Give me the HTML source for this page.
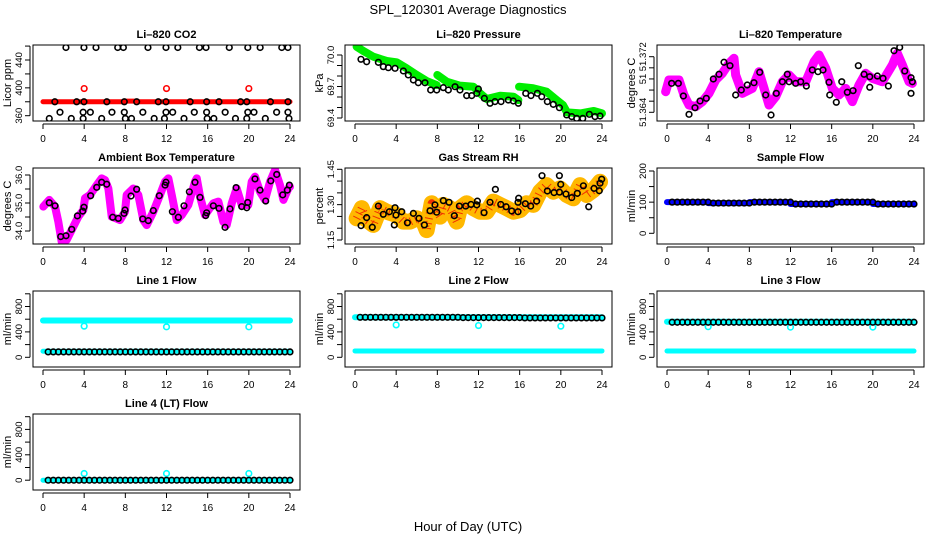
<!DOCTYPE html>
<html><head><meta charset="utf-8"><style>
html,body{margin:0;padding:0;background:#fff;}
svg{display:block;font-family:"Liberation Sans",Arial,sans-serif;}
</style></head><body>
<svg id="fig" width="936" height="540" viewBox="0 0 936 540" xmlns="http://www.w3.org/2000/svg">
<rect x="0" y="0" width="936" height="540" fill="#fff"/>
<text x="468" y="14" text-anchor="middle" font-size="13">SPL_120301  Average Diagnostics</text>
<text x="468" y="531" text-anchor="middle" font-size="13">Hour of Day (UTC)</text>
</svg>
<script>
// ---------- data ----------
const xTicks = [0,4,8,12,16,20,24];

const co2BlackHours = [2.23,3.98,5.15,7.26,7.81,10.2,11.95,13.1,15.2,15.84,18.1,19.9,21.1,23.2,23.8,
 1.15,3.27,3.98,6.2,7.9,9.1,11.2,11.95,14.3,15.9,17.1,19.2,19.8,22.1,23.8,
 1.65,3.9,4.6,6.7,7.9,9.7,11.95,12.6,14.7,15.9,17.7,19.9,20.5,22.7,23.8,
 0.61,2.75,3.9,5.7,8.0,8.6,10.8,11.8,13.7,15.95,16.6,18.7,19.8,21.6,23.9];
const co2BlackVals = [458,458,458,458,458,458,458,458,458,458,458,458,458,458,458,
 380,380,380,380,380,380,380,380,380,380,380,380,380,380,380,
 365,365,365,365,365,365,365,365,365,365,365,365,365,365,365,
 356,356,356,356,356,356,356,356,356,356,356,356,356,356,356];
const co2RedHours = [0,8,8.05,9.2,9.25,24];
const co2RedVals = [380,380,381,381,380,380];
const co2OutHours = [4,12,20];
const co2OutVals = [399,399,399];

const presGreenHours = [0.16,0.81,1.78,3.08,4.05,5.02,6.0,6.97,7.94,8.0,8.91,10.2,11.5,12.15,12.8,14.1,15.4,15.87,15.94,17.3,18.6,19.6,20.2,20.6,21.9,23.2,24];
const presGreenVals = [70.079,70.038,69.984,69.943,69.93,69.873,69.81,69.752,69.714,69.81,69.746,69.708,69.698,69.635,69.581,69.612,69.603,69.571,69.698,69.683,69.651,69.571,69.524,69.454,69.444,69.467,69.444];
const presBlackHours = [0.58,1.13,2.27,2.75,3.24,3.89,4.7,5.18,5.67,6.15,6.8,7.35,7.94,8.58,9.07,9.72,10.2,10.85,11.34,11.83,11.99,12.57,13.12,13.6,14.19,14.9,15.38,15.87,16.59,17.1,17.72,18.14,18.69,19.27,19.86,20.57,21.06,21.54,22.13,22.77,23.32,23.81];
const presBlackVals = [69.959,69.936,69.93,69.889,69.879,69.873,69.848,69.81,69.762,69.736,69.736,69.667,69.667,69.689,69.667,69.698,69.667,69.613,69.613,69.635,69.676,69.587,69.54,69.556,69.556,69.571,69.562,69.54,69.635,69.613,69.635,69.603,69.556,69.53,69.498,69.429,69.413,69.397,69.397,69.435,69.413,69.419];

const ltMagHours = [-0.13,0.19,1.17,1.65,2.14,2.79,3.43,4.08,4.73,5.38,6.03,6.51,6.67,7.32,8.29,8.94,9.43,9.91,10.56,11.21,11.86,12.5,13.48,14.29,14.77,15.42,16.06,16.72,17.36,18.01,18.66,19.3,19.95,20.92,21.9,22.38,22.87,23.52,23.84];
const ltMagVals = [51.36696,51.36865,51.36865,51.36649,51.36505,51.36481,51.36553,51.36673,51.36865,51.36961,51.37105,51.37177,51.36937,51.36673,51.36745,51.36984,51.36745,51.36505,51.36624,51.3684,51.36937,51.3684,51.3684,51.37128,51.37225,51.37033,51.36745,51.36649,51.36745,51.36553,51.36793,51.36961,51.36889,51.3684,51.37081,51.37249,51.37081,51.3684,51.36817];
const ltBlackHours = [0.45,1.1,1.59,2.14,2.72,3.21,3.82,4.5,5.05,5.54,6.12,6.67,7.22,7.8,8.45,9.01,9.59,10.11,10.62,11.21,11.69,11.86,12.5,12.99,13.54,14.12,14.67,15.16,15.74,15.81,16.45,16.98,17.52,18.08,18.59,19.15,19.7,19.7,20.44,20.99,21.51,22.06,22.61,23.1,23.71,23.84,23.71];
const ltBlackVals = [51.36817,51.36817,51.36635,51.36371,51.36466,51.36563,51.36601,51.36879,51.36947,51.3712,51.37071,51.36649,51.36721,51.36793,51.36826,51.36976,51.36649,51.36361,51.36673,51.3684,51.36947,51.3684,51.36817,51.3684,51.36778,51.37009,51.36984,51.37009,51.36832,51.36649,51.36544,51.3684,51.36688,51.36711,51.37071,51.36947,51.3676,51.36912,51.36922,51.36889,51.36778,51.37286,51.37335,51.36994,51.36898,51.3684,51.36673];

const ambMagHours = [0.03,0.61,1.17,1.49,1.81,2.3,2.79,3.43,3.92,4.08,4.57,5.22,5.7,6.03,6.35,6.68,7.48,7.97,8.13,8.78,9.26,9.75,10.08,10.72,11.37,11.86,12.18,12.51,12.99,13.48,14.12,14.77,14.94,15.26,15.74,16.55,17.04,17.52,17.85,18.34,18.82,19.31,19.95,20.28,20.6,21.09,21.57,22.06,22.55,23.03,23.36,23.84,24.0];
const ambMagVals = [34.87,35.11,34.87,34.33,33.62,33.68,34.04,34.51,34.75,35.17,35.29,35.64,35.88,35.82,35.52,34.51,34.39,34.69,35.29,35.52,35.29,34.39,34.21,34.69,35.29,35.76,35.88,35.29,34.39,34.57,34.93,35.76,35.88,35.23,34.57,34.99,35.05,34.33,34.21,34.99,35.52,34.93,34.93,35.76,35.94,35.4,35.11,35.76,36.18,35.64,35.11,35.52,35.58];
const ambBlackHours = [0.61,1.17,1.72,2.24,2.79,3.34,3.86,3.98,4.63,5.22,5.7,6.19,6.77,7.32,7.87,7.97,8.55,9.1,9.69,10.23,10.72,11.3,11.86,11.95,12.57,13.15,13.7,14.22,14.77,15.26,15.81,15.9,16.55,17.1,17.69,18.17,18.76,19.31,19.8,19.89,20.6,21.09,21.64,22.13,22.71,23.29,23.74,23.94];
const ambBlackVals = [35.01,34.9,33.8,33.83,34.06,34.54,34.71,34.85,35.26,35.56,35.74,35.67,34.49,34.45,34.63,34.75,35.25,35.49,34.43,34.37,34.73,35.26,35.64,35.74,34.69,34.49,34.9,35.4,35.74,35.2,34.55,34.65,34.9,34.81,34.13,34.79,35.55,34.87,34.83,35.02,35.86,35.46,35.07,35.79,36.02,35.29,35.46,35.64];

const rhBandHours = [0.16,0.65,1.13,1.78,2.43,3.08,4.05,4.7,5.35,6.0,6.64,6.97,7.45,7.94,8.26,8.58,9.23,9.88,10.2,10.85,11.5,12.15,12.8,13.44,14.09,14.74,15.39,16.04,16.68,17.33,17.98,18.63,19.27,19.92,20.57,21.22,21.87,22.51,23.16,23.81];
const rhBandVals = [1.242,1.285,1.235,1.214,1.285,1.27,1.256,1.228,1.228,1.242,1.228,1.192,1.306,1.27,1.249,1.299,1.285,1.228,1.285,1.306,1.285,1.27,1.27,1.313,1.299,1.285,1.27,1.277,1.306,1.299,1.355,1.383,1.355,1.369,1.341,1.327,1.383,1.341,1.362,1.397];
const rhBlackHours = [0.59,1.13,1.68,2.27,2.75,3.34,3.89,3.98,3.82,4.54,5.09,5.67,6.22,6.74,7.29,7.77,7.94,8.58,9.14,9.65,10.14,10.76,11.27,11.83,11.89,12.54,13.12,13.64,14.16,14.68,15.23,15.84,15.84,15.9,16.55,17.07,17.65,18.17,18.69,19.34,19.86,19.86,19.99,20.5,21.06,21.6,22.19,22.71,23.23,23.74,23.81,23.97];
const rhBlackVals = [1.211,1.245,1.204,1.294,1.259,1.27,1.287,1.256,1.214,1.27,1.223,1.263,1.242,1.214,1.274,1.299,1.268,1.317,1.31,1.253,1.294,1.294,1.301,1.299,1.315,1.266,1.31,1.365,1.301,1.291,1.273,1.31,1.27,1.327,1.304,1.294,1.315,1.423,1.358,1.351,1.353,1.423,1.386,1.345,1.33,1.348,1.38,1.291,1.369,1.359,1.391,1.408];

const flowHours = [0.5,1,1.5,2,2.5,3,3.5,4,4.5,5,5.5,6,6.5,7,7.5,8,8.5,9,9.5,10,10.5,11,11.5,12,12.5,13,13.5,14,14.5,15,15.5,16,16.5,17,17.5,18,18.5,19,19.5,20,20.5,21,21.5,22,22.5,23,23.5,24];
const sampleBlueStart = [0,4,8,12,16,20];
const sampleBlueEnd = [4,8,12,16,20,24];
const sampleBlueVals = [100,97,100,94,100,94];
const sampleBlackVals = [100,100,100,100,100,100,100,100,97,97,97,97,97,97,97,97,100,100,100,100,100,100,100,100,94,94,94,94,94,94,94,94,100,100,100,100,100,100,100,100,94,94,94,94,94,94,94,94];

const outHours = [4,12,20];
const line1Top = 580, line1Low = 95;
const line1Out = [490,480,480];
const line1Black = [85,85,85,85,85,85,85,85,85,85,85,85,85,85,85,85,85,85,85,85,85,85,85,85,85,85,85,85,85,85,85,85,85,85,85,85,85,85,85,85,85,85,85,85,85,85,85,85];
const line2Top = 630, line2Low = 100;
const line2Out = [510,500,490];
const line2Black = [630,630,630,630,630,630,630,630,630,630,630,630,630,630,630,630,630,630,630,630,625,625,625,625,625,625,625,625,625,625,625,625,620,620,620,620,620,620,620,620,620,620,620,620,620,620,620,620];
const line3Top = 560, line3Low = 99;
const line3Out = [482,475,475];
const line3Black = [552,552,552,552,552,552,552,552,552,552,552,552,552,552,552,552,552,552,552,552,552,552,552,552,552,552,552,552,552,552,552,552,552,552,552,552,552,552,552,552,552,552,552,552,552,552,552,552];
const line4Top = 0;
const line4Out = [105,105,105];
const line4Black = [0,0,0,0,0,0,0,0,0,0,0,0,0,0,0,0,0,0,0,0,0,0,0,0,0,0,0,0,0,0,0,0,0,0,0,0,0,0,0,0,0,0,0,0,0,0,0,0];

// ---------- drawing ----------
const NS = "http://www.w3.org/2000/svg";
const fig = document.getElementById('fig');
const COLS = [33,345,657], ROWS = [45,168,291,414], W = 267, H = 76;

function el(tag, parent, attrs){
  const e = document.createElementNS(NS, tag);
  for (const k in attrs) e.setAttribute(k, attrs[k]);
  parent.appendChild(e);
  return e;
}

function makePanel(name, col, row, title, ytitle, v1, o1, v2, o2, ticks, labels){
  const L = COLS[col], T = ROWS[row];
  const g = el('g', fig, {});
  
  
  const p = {g, L, T,
    x: h => L + 10 + h * (247/24),
    y: v => T + o1 + (v - v1) * (o2 - o1) / (v2 - v1)};
  const clip = el('clipPath', g, {id: 'clip-' + name});
  el('rect', clip, {x: L, y: T, width: W, height: H});
  p.plot = el('g', g, {'clip-path': 'url(#clip-' + name + ')'});
  
  
  const box = el('rect', g, {x: L, y: T, width: W, height: H, fill: 'none', stroke: '#000', 'stroke-width': 1});
  
  
  const t = el('text', g, {x: L + W/2, y: T - 7, 'text-anchor': 'middle', 'font-size': 11, 'font-weight': 'bold'});
  t.textContent = title;
  
  
  const yt = el('text', g, {x: 0, y: 0, 'text-anchor': 'middle', 'font-size': 11,
    transform: 'translate(' + (L - 22) + ',' + (T + H/2) + ') rotate(-90)'});
  yt.textContent = ytitle;
  
  
  const xa = el('g', g, {});
  
  
  el('line', xa, {x1: p.x(xTicks[0]), x2: p.x(xTicks[xTicks.length-1]), y1: T + H + 3, y2: T + H + 3, stroke: '#000'});
  xTicks.forEach(h => {
    el('line', xa, {x1: p.x(h), x2: p.x(h), y1: T + H + 3, y2: T + H + 8, stroke: '#000'});
    const lt = el('text', xa, {x: p.x(h), y: T + H + 21, 'text-anchor': 'middle', 'font-size': 10});
    lt.textContent = String(h);
    
    
  });
  const ya = el('g', g, {});
  
  
  el('line', ya, {x1: L - 3, x2: L - 3, y1: p.y(ticks[0]), y2: p.y(ticks[ticks.length-1]), stroke: '#000'});
  ticks.forEach((v, i) => {
    const yy = p.y(v);
    el('line', ya, {x1: L - 8, x2: L - 3, y1: yy, y2: yy, stroke: '#000'});
    if (labels[i]) {
      const lt = el('text', ya, {x: 0, y: 0, 'text-anchor': 'middle', 'font-size': 9.5,
        transform: 'translate(' + (L - 11) + ',' + yy + ') rotate(-90)'});
      lt.textContent = labels[i];
      
      
    }
  });
  return p;
}

function band(p, hours, vals, color, width, nm){
  const pl = el('polyline', p.plot, {points: hours.map((h,i) => p.x(h) + ',' + p.y(vals[i])).join(' '),
    fill: 'none', stroke: color, 'stroke-width': width, 'stroke-linejoin': 'round', 'stroke-linecap': 'round'});
  
  
  return pl;
}
function seg(p, h1, h2, v, color, width, nm){
  const ln = el('line', p.plot, {x1: p.x(h1), x2: p.x(h2), y1: p.y(v), y2: p.y(v), stroke: color, 'stroke-width': width, 'stroke-linecap': 'round'});
  
  
}
function points(p, hours, vals, color, nm, r){
  hours.forEach((h, i) => {
    const c = el('circle', p.plot, {cx: p.x(h), cy: p.y(vals[i]), r: r || 2.8, fill: 'none', stroke: color, 'stroke-width': 1.6});
    
    
  });
}

let p = makePanel('co2', 0, 0, 'Li\u2013820 CO2', 'Licor ppm', 360, 70.7, 440, 15,
  [360,380,400,420,440,460], ['360','','400','','440','']);
band(p, co2RedHours, co2RedVals, '#ff0000', 5, 'co2-red-series');
points(p, co2OutHours, co2OutVals, '#ff0000', 'co2-red-outlier');
points(p, co2BlackHours, co2BlackVals, '#000', 'co2-black-point');

p = makePanel('pressure', 1, 0, 'Li\u2013820 Pressure', 'kPa', 69.4, 73, 70.0, 10,
  [69.4,69.5,69.6,69.7,69.8,69.9,70.0], ['69.4','','','69.7','','','70.0']);
band(p, presGreenHours.slice(0,9), presGreenVals.slice(0,9), '#00ee00', 8, 'pressure-green-series');
band(p, presGreenHours.slice(9,18), presGreenVals.slice(9,18), '#00ee00', 8, 'pressure-green-series');
band(p, presGreenHours.slice(18), presGreenVals.slice(18), '#00ee00', 8, 'pressure-green-series');
points(p, presBlackHours, presBlackVals, '#000', 'pressure-black-point');

p = makePanel('li-temp', 2, 0, 'Li\u2013820 Temperature', 'degrees C', 51.364, 67.3, 51.372, 11.7,
  [51.364,51.3656,51.3672,51.3688,51.3704,51.372], ['51.364','','','51','','51.372']);
band(p, ltMagHours, ltMagVals, '#ff00ff', 9, 'li-temp-magenta-series');
points(p, ltMagHours, ltMagVals, '#ff00ff', 'li-temp-magenta-point', 3.5);
points(p, ltBlackHours, ltBlackVals, '#000', 'li-temp-black-point');

p = makePanel('ambient', 0, 1, 'Ambient Box Temperature', 'degrees C', 34.0, 63, 36.0, 7,
  [34.0,34.5,35.0,35.5,36.0], ['34.0','','35.0','','36.0']);
band(p, ambMagHours, ambMagVals, '#ff00ff', 8, 'ambient-magenta-series');
points(p, ambBlackHours, ambBlackVals, '#000', 'ambient-black-point');

p = makePanel('rh', 1, 1, 'Gas Stream RH', 'percent', 1.15, 72, 1.45, 1.3,
  [1.15,1.20,1.25,1.30,1.35,1.40,1.45], ['1.15','','','1.30','','','1.45']);
band(p, rhBandHours, rhBandVals, '#ffb800', 16, 'rh-orange-series');
const rd = band(p, rhBandHours, rhBandVals, '#f03000', 8, 'rh-red-texture');
rd.setAttribute('stroke-dasharray', '1 4');
rd.setAttribute('stroke-linecap', 'butt');
points(p, rhBlackHours, rhBlackVals, '#000', 'rh-black-point');

p = makePanel('sample-flow', 2, 1, 'Sample Flow', 'ml/min', 0, 65.3, 200, 3,
  [0,50,100,150,200], ['0','','100','','200']);
sampleBlueStart.forEach((s, i) => seg(p, s, sampleBlueEnd[i], sampleBlueVals[i], '#0000ff', 6, 'sample-flow-blue-series'));
points(p, flowHours, sampleBlackVals, '#000', 'sample-flow-black-point');

const flowTicks = [0,200,400,600,800,1000], flowLabels = ['0','','400','','800',''];
p = makePanel('line1', 0, 2, 'Line 1 Flow', 'ml/min', 0, 66.3, 800, 15.5, flowTicks, flowLabels);
seg(p, 0, 24, line1Top, '#00ffff', 6, 'line1-cyan-top');
seg(p, 0, 24, line1Low, '#00ffff', 5, 'line1-cyan-low');
points(p, outHours, line1Out, '#00ffff', 'line1-cyan-outlier');
points(p, flowHours, line1Black, '#000', 'line1-black-point');
p = makePanel('line2', 1, 2, 'Line 2 Flow', 'ml/min', 0, 66.3, 800, 15.5, flowTicks, flowLabels);
seg(p, 0, 24, line2Top, '#00ffff', 6, 'line2-cyan-top');
seg(p, 0, 24, line2Low, '#00ffff', 5, 'line2-cyan-low');
points(p, outHours, line2Out, '#00ffff', 'line2-cyan-outlier');
points(p, flowHours, line2Black, '#000', 'line2-black-point');
p = makePanel('line3', 2, 2, 'Line 3 Flow', 'ml/min', 0, 66.3, 800, 15.5, flowTicks, flowLabels);
seg(p, 0, 24, line3Top, '#00ffff', 6, 'line3-cyan-top');
seg(p, 0, 24, line3Low, '#00ffff', 5, 'line3-cyan-low');
points(p, outHours, line3Out, '#00ffff', 'line3-cyan-outlier');
points(p, flowHours, line3Black, '#000', 'line3-black-point');
p = makePanel('line4', 0, 3, 'Line 4 (LT) Flow', 'ml/min', 0, 66.2, 800, 15.4, flowTicks, flowLabels);
seg(p, 0, 24, line4Top, '#00ffff', 5, 'line4-cyan-series');
points(p, outHours, line4Out, '#00ffff', 'line4-cyan-outlier');
points(p, flowHours, line4Black, '#000', 'line4-black-point');
</script>
</body></html>
